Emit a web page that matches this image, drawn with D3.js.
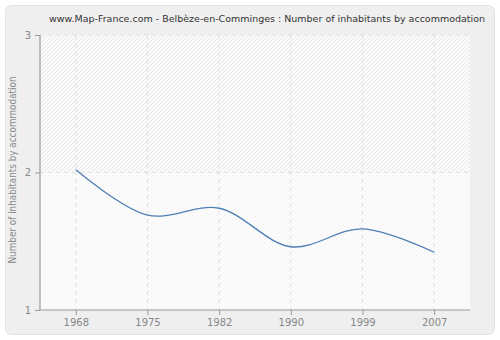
<!DOCTYPE html>
<html>
<head>
<meta charset="utf-8">
<script src="https://cdn.jsdelivr.net/npm/d3@7"></script>
<style>
  body { margin: 0; background: #fff; }
  svg { display: block; font-family: "DejaVu Sans", Verdana, sans-serif; }
</style>
</head>
<body>
<svg id="chart"></svg>
<script>
    // chart data
    var years = ["1968", "1975", "1982", "1990", "1999", "2007"]
    var values = [2.02, 1.69, 1.74, 1.46, 1.59, 1.42]
    var yTicks = [1, 2, 3]

    const width = 500
    const height = 340
    const margin = { top: 35, right: 30, bottom: 30, left: 40 }

    var svg = d3.select("#chart")
        .attr("width", width)
        .attr("height", height)

    // hatch pattern for plot background
    var defs = svg.append("defs")
    function hatch(id, bg, line) {
        var p = defs.append("pattern")
            .attr("id", id)
            .attr("patternUnits", "userSpaceOnUse")
            .attr("width", 4)
            .attr("height", 4)
        p.append("rect").attr("width", 4).attr("height", 4).attr("fill", bg)
        p.append("path")
            .attr("d", "M-1,1 l2,-2 M0,4 l4,-4 M3,5 l2,-2")
            .attr("stroke", line)
            .attr("stroke-width", 0.7)
    }
    hatch("hatchTop", "#fafafa", "#e2e2e2")
    hatch("hatchBottom", "#fcfcfc", "#efefef")

    // outer panel
    svg.append("rect")
        .attr("x", 5.5).attr("y", 5.5)
        .attr("width", 489).attr("height", 329)
        .attr("rx", 6)
        .attr("fill", "#efefef")
        .attr("stroke", "#e2e2e2")

    var x = d3.scalePoint()
        .domain(years)
        .range([margin.left, width - margin.right])
        .padding(0.5)

    var y = d3.scaleLinear()
        .domain([1, 3])
        .range([height - margin.bottom, margin.top])

    // plot background
    svg.append("rect")
        .attr("x", margin.left).attr("y", y(3))
        .attr("width", width - margin.right - margin.left)
        .attr("height", y(2) - y(3))
        .attr("fill", "url(#hatchTop)")
    svg.append("rect")
        .attr("x", margin.left).attr("y", y(2))
        .attr("width", width - margin.right - margin.left)
        .attr("height", y(1) - y(2))
        .attr("fill", "url(#hatchBottom)")

    // grid lines
    svg.append("g")
        .selectAll("line")
        .data(years)
        .enter()
        .append("line")
        .attr("x1", (d) => x(d)).attr("x2", (d) => x(d))
        .attr("y1", y(3)).attr("y2", y(1))
        .attr("stroke", "#e0e0e0")
        .attr("stroke-dasharray", "4,4")

    svg.append("g")
        .selectAll("line")
        .data(yTicks.slice(1))
        .enter()
        .append("line")
        .attr("x1", margin.left).attr("x2", width - margin.right)
        .attr("y1", (d) => y(d)).attr("y2", (d) => y(d))
        .attr("stroke", "#e0e0e0")
        .attr("stroke-dasharray", "4,4")

    // axes
    var xAxis = svg.append("g")
        .attr("transform", "translate(0," + y(1) + ")")
        .call(d3.axisBottom(x).tickSize(5).tickPadding(4))
    var yAxis = svg.append("g")
        .attr("transform", "translate(" + margin.left + ",0)")
        .call(d3.axisLeft(y).tickValues(yTicks).tickFormat(d3.format("d")).tickSize(5).tickPadding(4))

    ;[xAxis, yAxis].forEach(function(g) {
        g.select(".domain").attr("stroke", "#999").attr("stroke-width", 1.2)
        g.selectAll(".tick line").attr("stroke", "#999")
        g.selectAll(".tick text")
            .attr("fill", "#888")
            .style("font-size", "10px")
            .style("font-family", "DejaVu Sans, Verdana, sans-serif")
    })
    xAxis.select(".domain").attr("d", "M" + margin.left + ",0H" + (width - margin.right))
    yAxis.select(".domain").attr("d", "M0," + y(1) + "V" + y(3))

    // the line
    var line = d3.line()
        .x((d, i) => x(years[i]))
        .y((d) => y(d))
        .curve(d3.curveCatmullRom.alpha(0.5))

    svg.append("path")
        .datum(values)
        .attr("d", line)
        .attr("fill", "none")
        .attr("stroke", "#4f7fb5")
        .attr("stroke-width", 1.3)

    // title
    svg.append("text")
        .attr("x", 267)
        .attr("y", 22)
        .attr("text-anchor", "middle")
        .attr("fill", "#333")
        .attr("textLength", 436)
        .attr("lengthAdjust", "spacingAndGlyphs")
        .style("font-size", "9.5px")
        .text("www.Map-France.com - Belbèze-en-Comminges : Number of inhabitants by accommodation")

    // y label
    svg.append("text")
        .attr("transform", "translate(16,170) rotate(-90)")
        .attr("text-anchor", "middle")
        .attr("fill", "#888")
        .attr("textLength", 187)
        .attr("lengthAdjust", "spacingAndGlyphs")
        .style("font-size", "10px")
        .text("Number of inhabitants by accommodation")
</script>
</body>
</html>
